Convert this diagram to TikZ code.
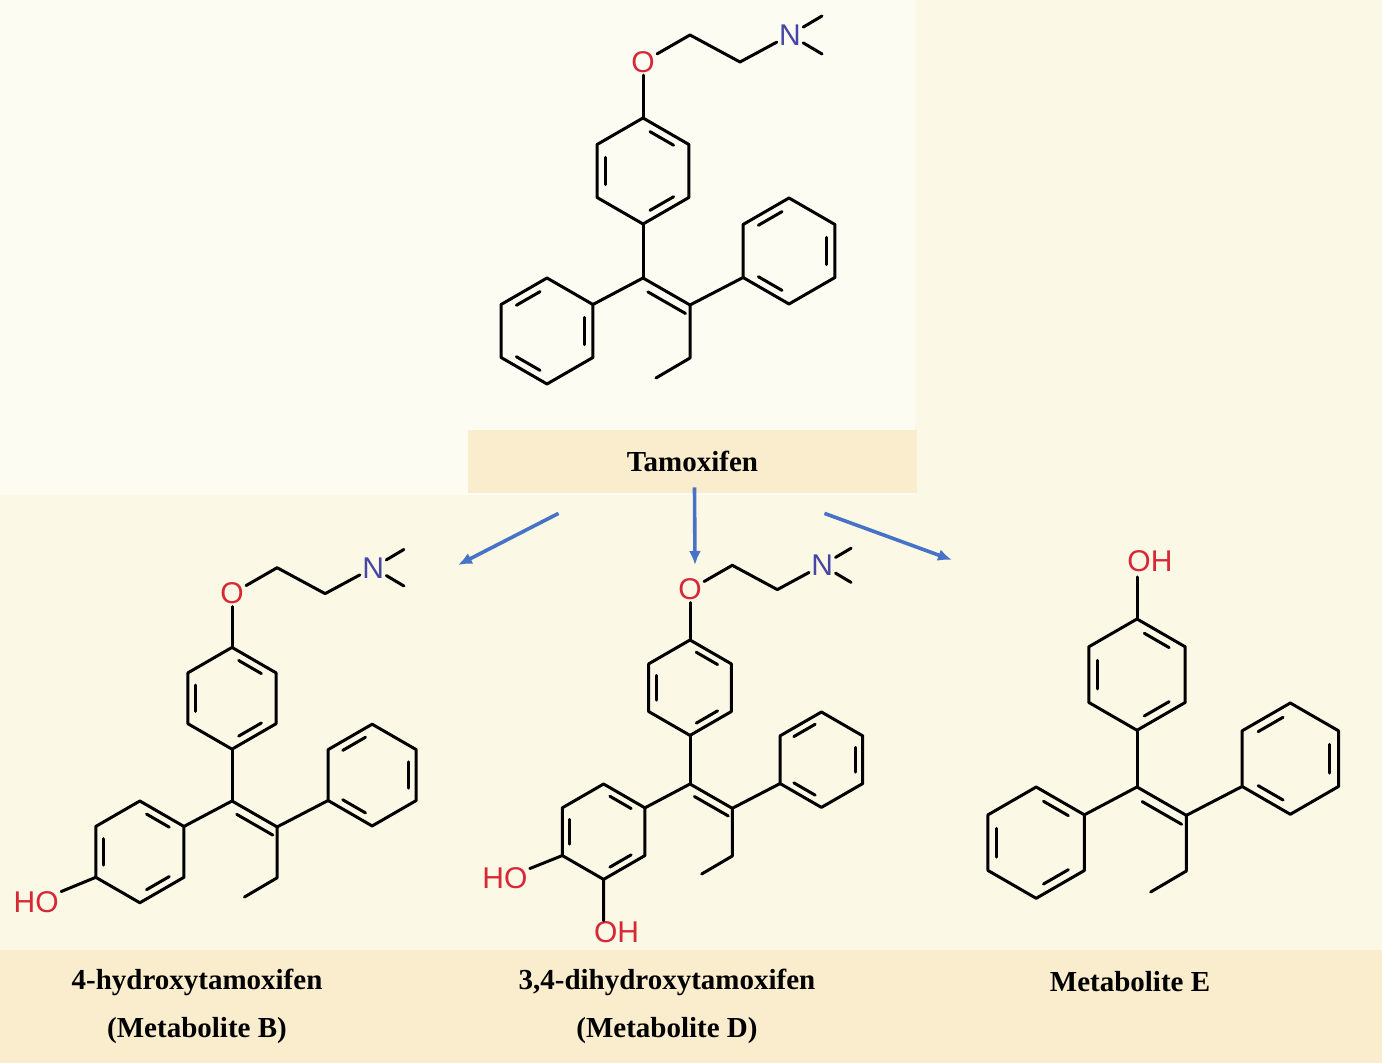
\documentclass[tikz,border=0pt]{standalone}
\usepackage{fontspec}
\setmainfont{Liberation Serif}
\setsansfont{Liberation Sans}
\usetikzlibrary{positioning,calc,arrows.meta}
\definecolor{paper}{RGB}{251,248,230}
\definecolor{paperlight}{RGB}{253,252,243}
\definecolor{band}{RGB}{249,237,205}
\definecolor{oxy}{RGB}{215,40,55}
\definecolor{nitro}{RGB}{70,70,165}
\definecolor{arrowblue}{RGB}{70,115,200}
\tikzset{
  bond/.style={line width=1.5pt, line cap=round, line join=round},
  atom/.style={font=\sffamily\fontsize{15}{15}\selectfont, inner sep=1pt},
  title/.style={font=\fontsize{14.5}{24}\selectfont\bfseries, align=center},
  pathway/.style={line width=1.8pt, arrowblue, -{Latex[length=7pt,width=6pt]}}
}
% ring: centre, list of inner-bond start angles
\newcommand{\ring}[2]{%
  \draw[bond] (#1) ++(30:53) -- ++(150:53) -- ++(210:53) -- ++(270:53) -- ++(330:53) -- ++(30:53) -- cycle;
  \foreach \a in {#2} \draw[bond] ($(#1)+(\a+10:40)$) -- ($(#1)+(\a+50:40)$);}
% stilbene core with C1 at the origin
\newcommand{\core}[3]{%
  \coordinate (c1) at (0,0); \coordinate (c2) at (47,27);
  \coordinate (ringT) at (0,-107); \coordinate (ringL) at (-96,53); \coordinate (ringR) at (146,-27);
  \ring{ringT}{#1} \ring{ringL}{#2} \ring{ringR}{#3}
  \draw[bond] (c1) -- (c2);
  \draw[bond] ($(c1)!0.2!(c2)+(-4.5,8.5)$) -- ($(c2)+(-4.5,8.5)$);
  \draw[bond] (c1) -- ($(ringT)+(90:53)$);
  \draw[bond] (c1) -- ($(ringL)+(330:53)$);
  \draw[bond] (c2) -- ($(ringR)+(150:53)$);
  \draw[bond] (c2) -- (47,80) -- (13,100);}
% O-CH2CH2-NMe2 side chain on top ring
\newcommand{\sidechain}{%
  \node[atom, text=oxy] (ox) at (0,-216) {O};
  \node[atom, text=nitro] (nn) at (147,-243) {N};
  \draw[bond] ($(ringT)+(270:53)$) -- (ox);
  \draw[bond] (ox) -- (47,-243) -- (97,-216) -- (nn);
  \draw[bond] (nn) -- (179,-262);
  \draw[bond] (nn) -- (179,-224);}
\begin{document}
\begin{tikzpicture}[x=0.5pt, y=-0.5pt]
\useasboundingbox (0,0) rectangle (1382,1063);
% backgrounds
\fill[paper] (0,0) rectangle (1382,1063);
\fill[paperlight] (0,0) rectangle (915,495);
\fill[band] (0,950) rectangle (1382,1063);
\node[fill=band, minimum width=224.5pt, minimum height=31.5pt, title] (tamox) at (692.5,461.5) {Tamoxifen};
% Tamoxifen
\begin{scope}[shift={(643,278)}]
\core{270,150,30}{210,330,90}{210,330,90}
\sidechain
\end{scope}
% 4-hydroxytamoxifen
\begin{scope}[shift={(232,801)}, scale=0.96]
\core{270,150,30}{270,150,30}{210,330,90}
\sidechain
\node[atom, text=oxy, anchor=east] (hoB) at (-178,105) {HO};
\draw[bond] ($(ringL)+(150:53)$) -- (hoB);
\end{scope}
% 3,4-dihydroxytamoxifen
\begin{scope}[shift={(690,784)}, scale=0.9]
\core{270,150,30}{270,150,30}{210,330,90}
\sidechain
\node[atom, text=oxy, anchor=east] (hoD) at (-178,105) {HO};
\draw[bond] ($(ringL)+(150:53)$) -- (hoD);
\node[atom, text=oxy, anchor=north west, xshift=-6pt] (ohD) at (-96,150) {OH};
\draw[bond] ($(ringL)+(90:53)$) -- (-96,152);
\end{scope}
% Metabolite E
\begin{scope}[shift={(1137,787)}, scale=1.05]
\core{270,150,30}{270,150,30}{210,330,90}
\node[atom, text=oxy, anchor=south west, xshift=-6pt] (ohE) at (0,-203) {OH};
\draw[bond] ($(ringT)+(270:53)$) -- (0,-200);
\end{scope}
% pathways
\coordinate (toB) at (458,565);
\coordinate (toD) at (695,565);
\coordinate (toE) at (952,560);
\draw[pathway] ([xshift=-67pt,yshift=-10pt]tamox.south) -- (toB);
\draw[pathway] ([xshift=1pt,yshift=3pt]tamox.south) -- (toD);
\draw[pathway] ([xshift=66pt,yshift=-10pt]tamox.south) -- (toE);
% names
\node[title] (nameB) at (197,1006) {4-hydroxytamoxifen\\(Metabolite B)};
\node[title] (nameD) at (667,1006) {3,4-dihydroxytamoxifen\\(Metabolite D)};
\node[title] (nameE) at (1130,982) {Metabolite E};
\end{tikzpicture}
\end{document}
